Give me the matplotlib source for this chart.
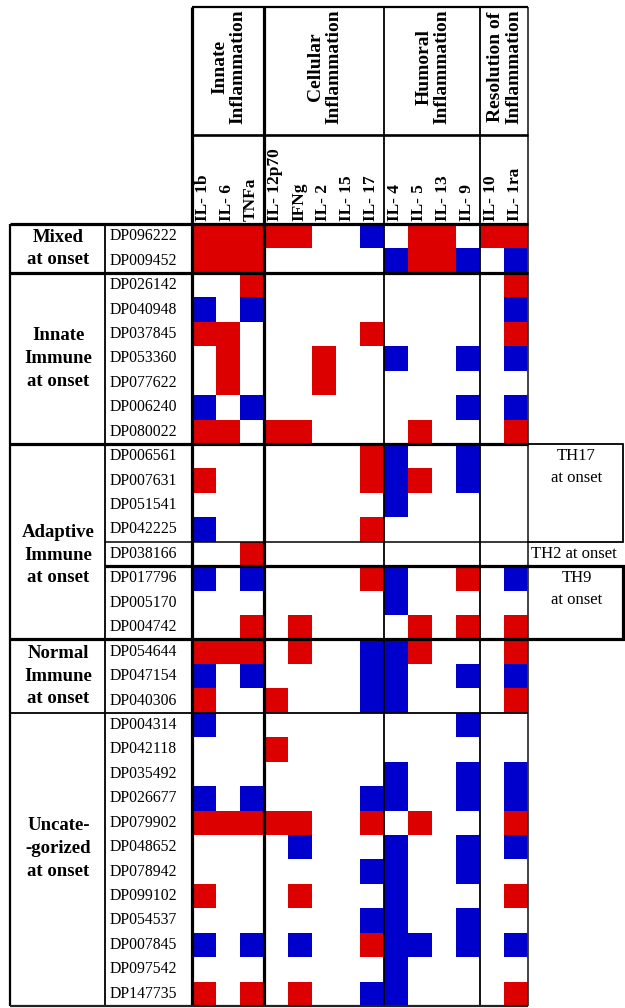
import numpy as np
import matplotlib
matplotlib.use("Agg")
import matplotlib.pyplot as plt
from matplotlib.colors import ListedColormap, BoundaryNorm

# ---------------- data ----------------
cytokines = ["IL- 1b", "IL- 6", "TNFa", "IL- 12p70", "IFNg", "IL- 2", "IL- 15",
             "IL- 17", "IL- 4", "IL- 5", "IL- 13", "IL- 9", "IL- 10", "IL- 1ra"]
pathways = ["Innate\nInflammation", "Cellular\nInflammation",
            "Humoral\nInflammation", "Resolution of\nInflammation"]
pathway_sizes = [3, 5, 4, 2]

groups = ["Mixed\nat onset", "Innate\nImmune\nat onset", "Adaptive\nImmune\nat onset",
          "Normal\nImmune\nat onset", "Uncate-\n-gorized\nat onset"]

subjects_mixed = ["DP096222", "DP009452"]
subjects_innate = ["DP026142", "DP040948", "DP037845", "DP053360", "DP077622",
                   "DP006240", "DP080022"]
subjects_adaptive = ["DP006561", "DP007631", "DP051541", "DP042225", "DP038166",
                     "DP017796", "DP005170", "DP004742"]
subjects_normal = ["DP054644", "DP047154", "DP040306"]
subjects_uncat = ["DP004314", "DP042118", "DP035492", "DP026677", "DP079902",
                  "DP048652", "DP078942", "DP099102", "DP054537", "DP007845",
                  "DP097542", "DP147735"]

# +1 elevated, -1 reduced, 0 unchanged
mixed_onset = [
    [1, 1, 1, 1, 1, 0, 0, -1, 0, 1, 1, 0, 1, 1],
    [1, 1, 1, 0, 0, 0, 0, 0, -1, 1, 1, -1, 0, -1],
]
innate_onset = [
    [0, 0, 1, 0, 0, 0, 0, 0, 0, 0, 0, 0, 0, 1],
    [-1, 0, -1, 0, 0, 0, 0, 0, 0, 0, 0, 0, 0, -1],
    [1, 1, 0, 0, 0, 0, 0, 1, 0, 0, 0, 0, 0, 1],
    [0, 1, 0, 0, 0, 1, 0, 0, -1, 0, 0, -1, 0, -1],
    [0, 1, 0, 0, 0, 1, 0, 0, 0, 0, 0, 0, 0, 0],
    [-1, 0, -1, 0, 0, 0, 0, 0, 0, 0, 0, -1, 0, -1],
    [1, 1, 0, 1, 1, 0, 0, 0, 0, 1, 0, 0, 0, 1],
]
adaptive_onset = [
    [0, 0, 0, 0, 0, 0, 0, 1, -1, 0, 0, -1, 0, 0],
    [1, 0, 0, 0, 0, 0, 0, 1, -1, 1, 0, -1, 0, 0],
    [0, 0, 0, 0, 0, 0, 0, 0, -1, 0, 0, 0, 0, 0],
    [-1, 0, 0, 0, 0, 0, 0, 1, 0, 0, 0, 0, 0, 0],
    [0, 0, 1, 0, 0, 0, 0, 0, 0, 0, 0, 0, 0, 0],
    [-1, 0, -1, 0, 0, 0, 0, 1, -1, 0, 0, 1, 0, -1],
    [0, 0, 0, 0, 0, 0, 0, 0, -1, 0, 0, 0, 0, 0],
    [0, 0, 1, 0, 1, 0, 0, 0, 0, 1, 0, 1, 0, 1],
]
normal_onset = [
    [1, 1, 1, 0, 1, 0, 0, -1, -1, 1, 0, 0, 0, 1],
    [-1, 0, -1, 0, 0, 0, 0, -1, -1, 0, 0, -1, 0, -1],
    [1, 0, 0, 1, 0, 0, 0, -1, -1, 0, 0, 0, 0, 1],
]
uncat_onset = [
    [-1, 0, 0, 0, 0, 0, 0, 0, 0, 0, 0, -1, 0, 0],
    [0, 0, 0, 1, 0, 0, 0, 0, 0, 0, 0, 0, 0, 0],
    [0, 0, 0, 0, 0, 0, 0, 0, -1, 0, 0, -1, 0, -1],
    [-1, 0, -1, 0, 0, 0, 0, -1, -1, 0, 0, -1, 0, -1],
    [1, 1, 1, 1, 1, 0, 0, 1, 0, 1, 0, 0, 0, 1],
    [0, 0, 0, 0, -1, 0, 0, 0, -1, 0, 0, -1, 0, -1],
    [0, 0, 0, 0, 0, 0, 0, -1, -1, 0, 0, -1, 0, 0],
    [1, 0, 0, 0, 1, 0, 0, 0, -1, 0, 0, 0, 0, 1],
    [0, 0, 0, 0, 0, 0, 0, -1, -1, 0, 0, -1, 0, 0],
    [-1, 0, -1, 0, -1, 0, 0, 1, -1, -1, 0, -1, 0, -1],
    [0, 0, 0, 0, 0, 0, 0, 0, -1, 0, 0, 0, 0, 0],
    [1, 0, 1, 0, 1, 0, 0, -1, -1, 0, 0, 0, 0, 1],
]

# T-helper subtypes within the adaptive group: (label, first row, last row + 1)
th_subtypes = [("TH17\nat onset", 9, 13), ("TH2 at onset", 13, 14), ("TH9\nat onset", 14, 17)]

# ---------------- assemble ----------------
blocks = [mixed_onset, innate_onset, adaptive_onset, normal_onset, uncat_onset]
subject_blocks = [subjects_mixed, subjects_innate, subjects_adaptive,
                  subjects_normal, subjects_uncat]
grid = np.vstack([np.array(b) for b in blocks])
subjects = sum(subject_blocks, [])
group_sizes = [len(b) for b in blocks]
n_rows, n_cols = grid.shape

# ---------------- page layout (pixels) ----------------
W, H = 625, 1008
X_LEFT, X_ID, GX0, GX1, X_RIGHT = 10, 105, 192, 528, 623
Y_TOP, Y_MID, GY0, GY1 = 7, 135, 224, 1006
CW = (GX1 - GX0) / n_cols
RH = (GY1 - GY0) / n_rows


def cx(c):
    return GX0 + c * CW


def ry(r):
    return GY0 + r * RH


SERIF = ["Liberation Serif", "DejaVu Serif"]
RED, BLUE = "#dc0000", "#0000cc"

fig = plt.figure(figsize=(W / 100, H / 100), dpi=100)
fig.patch.set_facecolor("white")

# heat-map cells
hm = fig.add_axes([GX0 / W, 1 - GY1 / H, (GX1 - GX0) / W, (GY1 - GY0) / H])
cmap = ListedColormap([BLUE, "white", RED])
norm = BoundaryNorm([-1.5, -0.5, 0.5, 1.5], cmap.N)
hm.pcolormesh(np.arange(n_cols + 1), np.arange(n_rows + 1), grid,
              cmap=cmap, norm=norm, shading="flat")
hm.set_xlim(0, n_cols)
hm.set_ylim(n_rows, 0)
hm.axis("off")

# table frame and labels in page pixels
lay = fig.add_axes([0, 0, 1, 1], zorder=5)
lay.set_xlim(0, W)
lay.set_ylim(H, 0)
lay.axis("off")
lay.patch.set_visible(False)

THICK, MED, THIN = 2.3, 1.6, 1.1

# vertical rules
lay.vlines(X_LEFT, GY0, GY1, color="black", lw=MED)
lay.vlines(X_ID, GY0, GY1, color="black", lw=THIN + 0.2)
lay.vlines(GX0, Y_TOP, GY1, color="black", lw=THICK)
bounds = np.cumsum(pathway_sizes)
for i, b in enumerate(bounds):
    lw = THICK if i == 0 else THIN + 0.2
    col = "#333333" if b == n_cols else "black"
    lay.vlines(cx(b), Y_TOP, GY1, color=col, lw=lw)

# header rules
lay.hlines(Y_TOP, GX0, GX1, color="black", lw=MED)
lay.hlines(Y_MID, GX0, GX1, color="black", lw=MED + 0.3)
lay.hlines(GY0, X_LEFT, GX1, color="black", lw=THICK)

# group rules
gb = np.cumsum(group_sizes)
for i, b in enumerate(gb):
    if b == n_rows:
        lay.hlines(ry(b), X_LEFT, GX1, color="#222222", lw=MED)
    else:
        lw = THIN + 0.2 if i == 3 else THICK
        lay.hlines(ry(b), X_LEFT, GX1, color="black", lw=lw)

# T-helper subtype rules and boxes
for k, (lab, r0, r1) in enumerate(th_subtypes):
    if k == 1:
        lay.hlines(ry(r0), X_ID, GX1, color="black", lw=THIN)
        lay.hlines(ry(r1), X_ID, GX1, color="black", lw=THICK)
        lay.text(GX1 + 3, (ry(r0) + ry(r1)) / 2, lab, ha="left", va="center",
                 fontsize=12, family=SERIF)
    else:
        lw = THIN + 0.2 if k == 0 else THICK
        lay.plot([GX1, X_RIGHT, X_RIGHT, GX1], [ry(r0), ry(r0), ry(r1), ry(r1)],
                 color="black", lw=lw, solid_joinstyle="miter")
        lay.text((GX1 + X_RIGHT) / 2 + 1, ry(r0) + 4, lab, ha="center", va="top",
                 fontsize=12, family=SERIF, linespacing=1.5)

# pathway headers
start = 0
for name, size in zip(pathways, pathway_sizes):
    mid = (cx(start) + cx(start + size)) / 2
    lay.text(mid + 1, 67, name, rotation=90, ha="center", va="center",
             fontsize=14, fontweight="bold", family=SERIF, linespacing=1.1)
    start += size

# cytokine headers
for j, name in enumerate(cytokines):
    lay.text(cx(j + 0.5) - 1, 221, name, rotation=90, ha="center", va="bottom",
             fontsize=12.5, fontweight="bold", family=SERIF)

# subject ids
for i, s in enumerate(subjects):
    lay.text(X_ID + 5, ry(i + 0.5), s, ha="left", va="center",
             fontsize=11.3, family=SERIF)

# group names
label_shift = [0, 0, 0.55, 0, -0.45]
start = 0
for name, size, sh in zip(groups, group_sizes, label_shift):
    lay.text((X_LEFT + X_ID) / 2 + 1, ry(start + size / 2 + sh), name,
             ha="center", va="center", fontsize=13.5, fontweight="bold",
             family=SERIF, linespacing=1.45)
    start += size

fig.savefig("out.png", dpi=100, facecolor="white")
